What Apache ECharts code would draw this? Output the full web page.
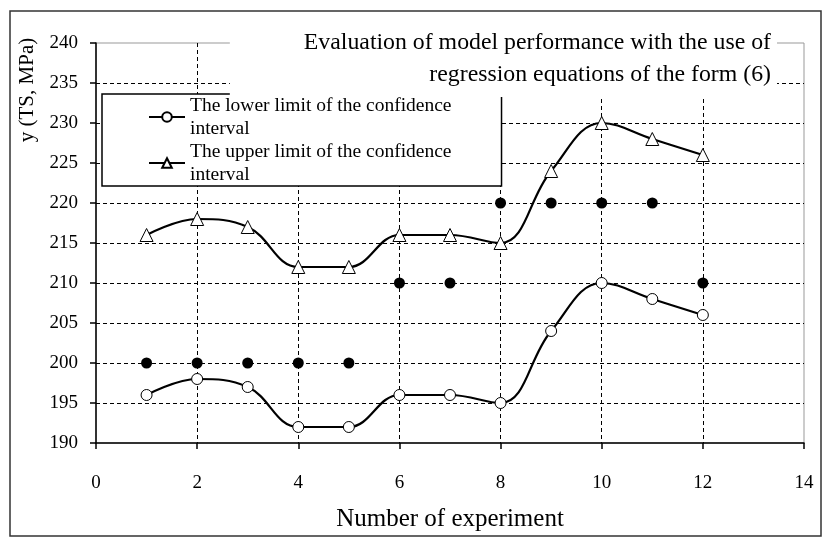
<!DOCTYPE html>
<html>
<head>
<meta charset="utf-8">
<script src="https://cdn.jsdelivr.net/npm/echarts@6/dist/echarts.min.js"></script>
<style>
  html, body { margin: 0; padding: 0; background: #fff; }
  #chart { width: 827px; height: 544px; }
</style>
</head>
<body>
<div id="chart"></div>
<script>
// experiment numbers
const experiments = [1, 2, 3, 4, 5, 6, 7, 8, 9, 10, 11, 12];
// confidence interval limits (TS, MPa)
const lowerLimit = [196, 198, 197, 192, 192, 196, 196, 195, 204, 210, 208, 206];
const upperLimit = [216, 218, 217, 212, 212, 216, 216, 215, 224, 230, 228, 226];
// measured values (black dots)
const measured = [200, 200, 200, 200, 200, 210, 210, 220, 220, 220, 220, 210];

const serif = 'Liberation Serif';

const pairs = (xs, ys) => xs.map((x, i) => [x, ys[i]]);

let mychart = echarts.init(document.getElementById('chart'));
mychart.setOption({
    animation: false,
    backgroundColor: '#fff',
    grid: {
        left: 96, right: 23, top: 43, bottom: 101,
        show: true,
        borderColor: '#999',
        borderWidth: 1
    },
    title: {
        text: 'Evaluation of model performance with the use of\nregression equations of the form (6)',
        // with textAlign right the text is anchored at left + padding-left
        left: 697,
        top: 27,
        padding: [0, 6, 6, 74],
        backgroundColor: '#fff',
        textAlign: 'right',
        textStyle: {
            fontFamily: serif,
            fontWeight: 'normal',
            fontSize: 23.8,
            lineHeight: 32,
            color: '#000'
        }
    },
    legend: {
        data: ['The lower limit of the confidence\ninterval', 'The upper limit of the confidence\ninterval'],
        orient: 'vertical',
        left: 102,
        top: 94,
        padding: [0, 50, 0, 46],
        itemGap: 0,
        itemWidth: 36,
        itemHeight: 12,
        selectedMode: false,
        backgroundColor: '#fff',
        borderColor: '#000',
        borderWidth: 1.5,
        borderRadius: 0,
        textStyle: {
            fontFamily: serif,
            fontSize: 19.5,
            lineHeight: 23,
            color: '#000'
        }
    },
    xAxis: {
        type: 'value',
        min: 0,
        max: 14,
        interval: 2,
        name: 'Number of experiment',
        nameLocation: 'middle',
        nameGap: 64,
        nameTextStyle: { fontFamily: serif, fontSize: 25, color: '#000' },
        axisLine: { show: true, lineStyle: { color: '#000', width: 1.5 } },
        axisTick: { show: true, length: 6, lineStyle: { color: '#000', width: 1.5 } },
        axisLabel: { fontFamily: serif, fontSize: 19, color: '#000', margin: 31 },
        splitLine: { show: true, showMinLine: false, showMaxLine: false, lineStyle: { color: '#000', type: [4, 3], width: 1 } }
    },
    yAxis: {
        type: 'value',
        min: 190,
        max: 240,
        interval: 5,
        axisLine: { show: true, lineStyle: { color: '#000', width: 1.5 } },
        axisTick: { show: true, length: 6, lineStyle: { color: '#000', width: 1.5 } },
        axisLabel: { fontFamily: serif, fontSize: 19, color: '#000', margin: 18 },
        splitLine: { show: true, showMinLine: false, showMaxLine: false, lineStyle: { color: '#000', type: [4, 3], width: 1 } }
    },
    graphic: [
        {
            type: 'rect',
            shape: { x: 10, y: 11, width: 811, height: 525 },
            style: { fill: 'none', stroke: '#333', lineWidth: 1.5 },
            z: 100
        },
        {
            type: 'text',
            x: 27,
            y: 90,
            rotation: Math.PI / 2,
            style: {
                text: 'y (TS, MPa)',
                fontFamily: serif,
                fontSize: 21,
                fill: '#000',
                align: 'center',
                verticalAlign: 'middle'
            }
        }
    ],
    series: [
        {
            name: 'The lower limit of the confidence\ninterval',
            type: 'line',
            smooth: 0.4,
            data: pairs(experiments, lowerLimit),
            symbol: 'circle',
            symbolSize: 11,
            lineStyle: { color: '#000', width: 2.2 },
            itemStyle: { color: '#fff', borderColor: '#000', borderWidth: 1 },
            z: 3
        },
        {
            name: 'The upper limit of the confidence\ninterval',
            type: 'line',
            smooth: 0.4,
            data: pairs(experiments, upperLimit),
            symbol: 'triangle',
            symbolSize: 13,
            lineStyle: { color: '#000', width: 2.2 },
            itemStyle: { color: '#fff', borderColor: '#000', borderWidth: 1 },
            z: 3
        },
        {
            name: 'measured',
            type: 'scatter',
            data: pairs(experiments, measured),
            symbol: 'circle',
            symbolSize: 11,
            itemStyle: { color: '#000', opacity: 1 },
            z: 4
        }
    ]
});
</script>
</body>
</html>
